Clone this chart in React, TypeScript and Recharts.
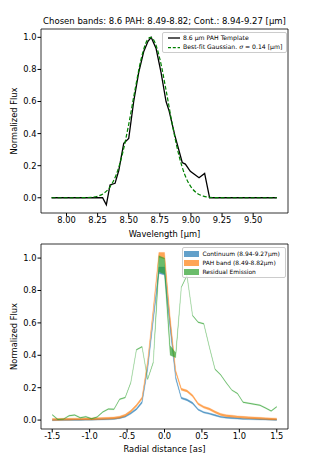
import React from "react";
import { LineChart, Line, ComposedChart, Area, XAxis, YAxis, ReferenceArea } from "recharts";

const FONT = "'DejaVu Sans', sans-serif";

// top panel: 8.6 um PAH template and gaussian fit
const templateWave = [7.88, 8.29, 8.32, 8.35, 8.39, 8.42, 8.46, 8.5, 8.54, 8.58, 8.62, 8.655, 8.68, 8.72, 8.76, 8.8, 8.825, 8.87, 8.93, 8.955, 8.995, 9.03, 9.065, 9.11, 9.15, 9.69];
const templateFlux = [0, 0, -0.044, 0.08, 0.09, 0.17, 0.34, 0.37, 0.6, 0.78, 0.91, 0.975, 1.0, 0.93, 0.78, 0.6, 0.54, 0.39, 0.22, 0.21, 0.165, 0.145, 0.125, 0.152, 0, 0];

const gaussWave = [7.88, 8.0, 8.1, 8.2, 8.25, 8.3, 8.35, 8.4, 8.45, 8.5, 8.55, 8.6, 8.65, 8.675, 8.7, 8.75, 8.8, 8.85, 8.9, 8.95, 9.0, 9.05, 9.1, 9.15, 9.2, 9.3, 9.69];
const gaussFlux = [0, 0, 0.0002, 0.003, 0.01, 0.028, 0.068, 0.145, 0.275, 0.458, 0.671, 0.866, 0.984, 1.0, 0.984, 0.866, 0.671, 0.458, 0.275, 0.145, 0.068, 0.028, 0.01, 0.003, 0.001, 0, 0];

const waveTicks = [8.0, 8.25, 8.5, 8.75, 9.0, 9.25, 9.5];
const fluxTicks = [0, 0.2, 0.4, 0.6, 0.8, 1.0];

// bottom panel: radial profiles
const radius = [
  -1.5, -1.425, -1.35, -1.275, -1.2, -1.125, -1.05, -0.975, -0.9, -0.825, -0.75,
  -0.675, -0.6, -0.525, -0.45, -0.375, -0.3, -0.225, -0.15, -0.075, 0,
  0.075, 0.15, 0.225, 0.3, 0.375, 0.45, 0.525, 0.6, 0.675, 0.75,
  0.825, 0.9, 0.975, 1.05, 1.125, 1.2, 1.275, 1.35, 1.425, 1.5,
];
const contMid = [
  0.0, 0.001, 0.001, 0.002, 0.002, 0.002, 0.003, 0.003, 0.004, 0.005, 0.006,
  0.008, 0.013, 0.022, 0.042, 0.068, 0.11, 0.32, 0.62, 0.925, 0.92,
  0.58, 0.26, 0.136, 0.125, 0.105, 0.065, 0.048, 0.04, 0.03, 0.02,
  0.015, 0.013, 0.01, 0.008, 0.007, 0.006, 0.005, 0.004, 0.003, 0.002,
];
const contErr = [
  0.004, 0.004, 0.004, 0.004, 0.004, 0.004, 0.004, 0.004, 0.004, 0.004, 0.004,
  0.004, 0.004, 0.004, 0.005, 0.005, 0.006, 0.008, 0.01, 0.02, 0.025,
  0.02, 0.008, 0.005, 0.005, 0.005, 0.004, 0.004, 0.004, 0.004, 0.004,
  0.004, 0.004, 0.004, 0.004, 0.004, 0.004, 0.004, 0.004, 0.004, 0.004,
];
const pahMid = [
  0.004, 0.004, 0.005, 0.005, 0.006, 0.006, 0.007, 0.007, 0.008, 0.01, 0.011,
  0.013, 0.018, 0.03, 0.055, 0.09, 0.135, 0.36, 0.68, 1.02, 1.015,
  0.62, 0.3, 0.19, 0.18, 0.15, 0.1, 0.08, 0.068, 0.05, 0.035,
  0.027, 0.024, 0.02, 0.017, 0.015, 0.013, 0.011, 0.009, 0.007, 0.006,
];
const pahErr = [
  0.006, 0.006, 0.006, 0.006, 0.006, 0.006, 0.006, 0.006, 0.006, 0.006, 0.006,
  0.006, 0.006, 0.006, 0.006, 0.006, 0.007, 0.008, 0.01, 0.015, 0.02,
  0.02, 0.008, 0.006, 0.006, 0.006, 0.006, 0.006, 0.006, 0.006, 0.006,
  0.006, 0.006, 0.006, 0.006, 0.006, 0.006, 0.006, 0.006, 0.006, 0.006,
];
const resMid = [
  0.033, 0.004, 0.006, 0.027, 0.031, 0.015, 0.021, 0.008, 0.019, 0.05, 0.068,
  0.067, 0.128, 0.139, 0.232, 0.434, 0.453, 0.252, 0.356, 0.965, 0.95,
  0.43, 0.4, 0.82, 0.893, 0.645, 0.604, 0.595, 0.45, 0.314, 0.28,
  0.23, 0.185, 0.164, 0.11, 0.104, 0.098, 0.092, 0.075, 0.056, 0.083,
];
const resErr = [
  0.003, 0.003, 0.003, 0.003, 0.003, 0.003, 0.003, 0.003, 0.003, 0.003, 0.003,
  0.003, 0.003, 0.003, 0.003, 0.003, 0.003, 0.003, 0.004, 0.05, 0.05,
  0.03, 0.015, 0.003, 0.003, 0.003, 0.003, 0.003, 0.003, 0.003, 0.003,
  0.003, 0.003, 0.003, 0.003, 0.003, 0.003, 0.003, 0.003, 0.003, 0.003,
];
const radiusTicks = [-1.5, -1.0, -0.5, 0.0, 0.5, 1.0, 1.5];

const BLUE = "#1f77b4";
const ORANGE = "#ff7f0e";
const GREEN = "#2ca02c";

const tickStyle = { fill: "#000", fontSize: 8.3, fontFamily: FONT };
const labelStyle = { fill: "#000", fontSize: 8.3, fontFamily: FONT };

const TopPanel = () => {
  const template = templateWave.map((w, i) => ({ w, flux: templateFlux[i] }));
  const gauss = gaussWave.map((w, i) => ({ w, fit: gaussFlux[i] }));
  const xd: [number, number] = [7.795, 9.78];
  const yd: [number, number] = [-0.095, 1.052];
  return (
    <LineChart width={321} height={240} margin={{ top: 29, right: 33, bottom: 0, left: 0 }}>
      <XAxis
        type="number"
        dataKey="w"
        domain={xd}
        ticks={waveTicks}
        allowDataOverflow
        tickFormatter={(v: number) => v.toFixed(2)}
        axisLine={false}
        tickLine={{ stroke: "#000" }}
        tickSize={3.5}
        tickMargin={1}
        tick={tickStyle}
        height={27}
        label={{ value: "Wavelength [µm]", position: "insideBottom", offset: 3, ...labelStyle }}
      />
      <YAxis
        type="number"
        domain={yd}
        ticks={fluxTicks}
        allowDataOverflow
        tickFormatter={(v: number) => v.toFixed(1)}
        axisLine={false}
        tickLine={{ stroke: "#000" }}
        tickSize={3.5}
        tickMargin={1}
        tick={tickStyle}
        width={41}
        label={{ value: "Normalized Flux", angle: -90, position: "insideLeft", offset: 14, style: { textAnchor: "middle" }, ...labelStyle }}
      />
      <ReferenceArea x1={xd[0]} x2={xd[1]} y1={yd[0]} y2={yd[1]} fill="none" fillOpacity={0} stroke="#000" strokeWidth={0.8} />
      <Line data={template} dataKey="flux" type="linear" stroke="#000" strokeWidth={1.3} dot={false} isAnimationActive={false} />
      <Line data={gauss} dataKey="fit" type="monotone" stroke="#008000" strokeWidth={1.2} strokeDasharray="4 2" dot={false} isAnimationActive={false} />
    </LineChart>
  );
};

const BottomPanel = () => {
  const rows = radius.map((r, i) => ({
    r,
    cont: [contMid[i] - contErr[i], contMid[i] + contErr[i]],
    pah: [pahMid[i] - pahErr[i], pahMid[i] + pahErr[i]],
    res: [resMid[i] - resErr[i], resMid[i] + resErr[i]],
  }));
  const xd: [number, number] = [-1.65, 1.65];
  const yd: [number, number] = [-0.055, 1.087];
  return (
    <ComposedChart width={321} height={216} data={rows} margin={{ top: 4, right: 33, bottom: 0, left: 0 }}>
      <XAxis
        type="number"
        dataKey="r"
        domain={xd}
        ticks={radiusTicks}
        allowDataOverflow
        tickFormatter={(v: number) => v.toFixed(1)}
        axisLine={false}
        tickLine={{ stroke: "#000" }}
        tickSize={3.5}
        tickMargin={1}
        tick={tickStyle}
        height={27}
        label={{ value: "Radial distance [as]", position: "insideBottom", offset: 4, ...labelStyle }}
      />
      <YAxis
        type="number"
        domain={yd}
        ticks={fluxTicks}
        allowDataOverflow
        tickFormatter={(v: number) => v.toFixed(1)}
        axisLine={false}
        tickLine={{ stroke: "#000" }}
        tickSize={3.5}
        tickMargin={1}
        tick={tickStyle}
        width={41}
        label={{ value: "Normalized Flux", angle: -90, position: "insideLeft", offset: 14, style: { textAnchor: "middle" }, ...labelStyle }}
      />
      <Area dataKey="cont" type="linear" fill={BLUE} fillOpacity={0.7} stroke={BLUE} strokeOpacity={0.5} strokeWidth={0.5} isAnimationActive={false} />
      <Area dataKey="pah" type="linear" fill={ORANGE} fillOpacity={0.7} stroke={ORANGE} strokeOpacity={0.5} strokeWidth={0.5} isAnimationActive={false} />
      <Area dataKey="res" type="linear" fill={GREEN} fillOpacity={0.7} stroke={GREEN} strokeOpacity={0.35} strokeWidth={0.5} isAnimationActive={false} />
      <ReferenceArea x1={xd[0]} x2={xd[1]} y1={yd[0]} y2={yd[1]} fill="none" fillOpacity={0} stroke="#000" strokeWidth={0.8} />
    </ComposedChart>
  );
};

const legendBox: React.CSSProperties = {
  position: "absolute",
  background: "rgba(255,255,255,0.8)",
  border: "1px solid #cccccc",
  borderRadius: 2,
  boxSizing: "border-box",
  fontFamily: FONT,
  color: "#000",
};

const Row = ({ top, left, children }: { top: number; left: number; children: React.ReactNode }) => (
  <div style={{ position: "absolute", top: top - 4, left, height: 8, lineHeight: "8px", whiteSpace: "nowrap" }}>{children}</div>
);

export default function App() {
  return (
    <div style={{ position: "absolute", left: 0, top: 0, width: 321, height: 456, background: "#fff", overflow: "hidden" }}>
      <div style={{ position: "absolute", left: 0, top: 15, width: 329, textAlign: "center", fontFamily: FONT, fontSize: 8.5, lineHeight: "12px", color: "#000", whiteSpace: "nowrap" }}>
        Chosen bands: 8.6 PAH: 8.49-8.82; Cont.: 8.94-9.27 [µm]
      </div>
      <div style={{ position: "absolute", left: 0, top: 0 }}>
        <TopPanel />
      </div>
      <div style={{ position: "absolute", left: 0, top: 240 }}>
        <BottomPanel />
      </div>

      <div style={{ ...legendBox, fontSize: 6.15, left: 162, top: 31.5, width: 125, height: 21 }}>
        <svg width={14} height={20} style={{ position: "absolute", left: 4, top: 0 }}>
          <line x1={1} x2={13} y1={5} y2={5} stroke="#000" strokeWidth={1.3} />
          <line x1={1} x2={13} y1={14.6} y2={14.6} stroke="#008000" strokeWidth={1.2} strokeDasharray="3 1.8" />
        </svg>
        <Row top={5} left={20}>8.6 µm PAH Template</Row>
        <Row top={14.6} left={20}>
          Best-fit Gaussian. <i>σ</i> = 0.14 [µm]
        </Row>
      </div>

      <div style={{ ...legendBox, fontSize: 5.95, left: 181.5, top: 246.5, width: 104, height: 31 }}>
        <div style={{ position: "absolute", left: 1.5, top: 3.2, width: 15, height: 6, background: BLUE, opacity: 0.7 }} />
        <Row top={6.3} left={20}>Continuum (8.94-9.27µm)</Row>
        <div style={{ position: "absolute", left: 1.5, top: 12.2, width: 15, height: 6, background: ORANGE, opacity: 0.7 }} />
        <Row top={15.3} left={20}>PAH band (8.49-8.82µm)</Row>
        <div style={{ position: "absolute", left: 1.5, top: 21.4, width: 15, height: 6, background: GREEN, opacity: 0.7 }} />
        <Row top={24.3} left={20}>Residual Emission</Row>
      </div>
    </div>
  );
}
